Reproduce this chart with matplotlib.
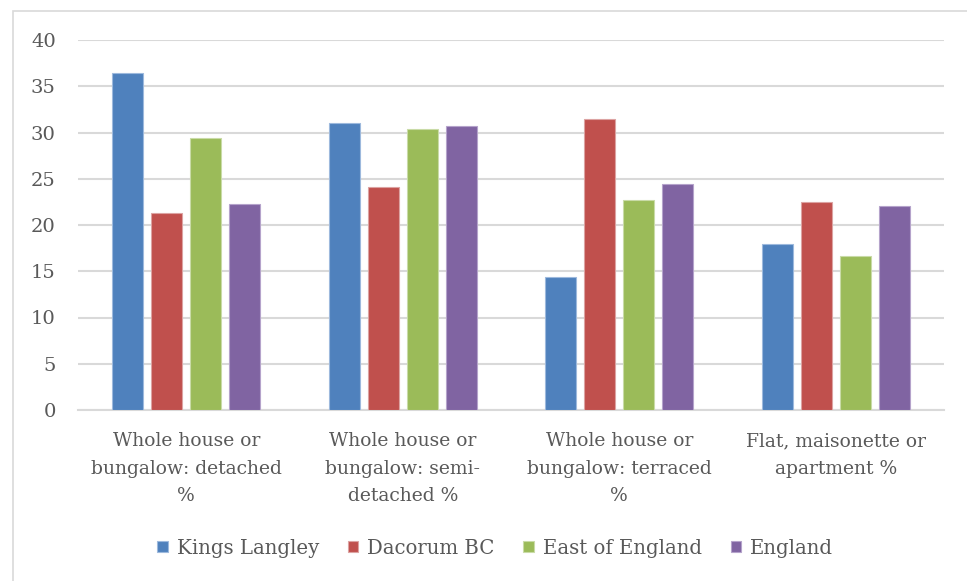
import matplotlib
matplotlib.use("Agg")
import matplotlib.pyplot as plt
import numpy as np
from matplotlib.patches import Rectangle

categories = ["Whole house or\nbungalow: detached\n%",
              "Whole house or\nbungalow: semi-\ndetached %",
              "Whole house or\nbungalow: terraced\n%",
              "Flat, maisonette or\napartment %"]
series_names = ["Kings Langley", "Dacorum BC", "East of England", "England"]
kings_langley = [36.4, 31.0, 14.4, 17.9]
dacorum_bc = [21.3, 24.1, 31.5, 22.5]
east_of_england = [29.4, 30.4, 22.7, 16.6]
england = [22.3, 30.7, 24.4, 22.1]
yticks = [0, 5, 10, 15, 20, 25, 30, 35, 40]

colors = ["#4F81BD", "#C0504D", "#9BBB59", "#8064A2"]
edgecolors = ["#9DB9DD", "#DCA3A2", "#C9DBA7", "#B5A3CB"]
text_color = "#595959"
font = "DejaVu Serif"

W, H = 967, 581
fig = plt.figure(figsize=(W / 100, H / 100), dpi=100)
ax = fig.add_axes([78 / W, 1 - 410 / H, (944 - 78) / W, (410 - 40) / H])

x = np.arange(len(categories))
pitch = 0.18
width = 0.143
all_series = [kings_langley, dacorum_bc, east_of_england, england]
for i, (vals, name) in enumerate(zip(all_series, series_names)):
    ax.bar(x + (i - 1.5) * pitch, vals, width=width, color=colors[i],
           edgecolor=edgecolors[i], linewidth=0.8, label=name, zorder=3)

ax.set_xlim(-0.5, 3.5)
ax.set_ylim(0, 40)
ax.set_yticks(yticks)
ax.yaxis.grid(True, color="#D9D9D9", linewidth=1.5, zorder=0)
ax.set_axisbelow(True)
for s in ["top", "right", "left"]:
    ax.spines[s].set_visible(False)
ax.spines["bottom"].set_color("#D9D9D9")
ax.spines["bottom"].set_linewidth(1.5)
ax.tick_params(axis="both", length=0, colors=text_color)
ax.tick_params(axis="y", pad=16)
ax.tick_params(axis="x", pad=16)
ax.set_xticks(x)
ax.set_xticklabels(categories, fontsize=13.5, family=font, color=text_color,
                   linespacing=1.68)
for lab in ax.get_yticklabels():
    lab.set_fontsize(14)
    lab.set_family(font)
    lab.set_color(text_color)

leg = fig.legend(loc="center", bbox_to_anchor=(0.512, 1 - 548 / H), ncol=4,
                 frameon=False, prop={"family": font, "size": 14.2},
                 handlelength=0.55, handleheight=0.55, handletextpad=0.45,
                 columnspacing=1.45)
for t in leg.get_texts():
    t.set_color(text_color)

fig.patches.append(Rectangle((13 / W, -0.01), 1.0, 1 - 11 / H + 0.01,
                             transform=fig.transFigure, fill=False,
                             edgecolor="#D9D9D9", linewidth=1.2))

fig.savefig("out.png", dpi=100)
